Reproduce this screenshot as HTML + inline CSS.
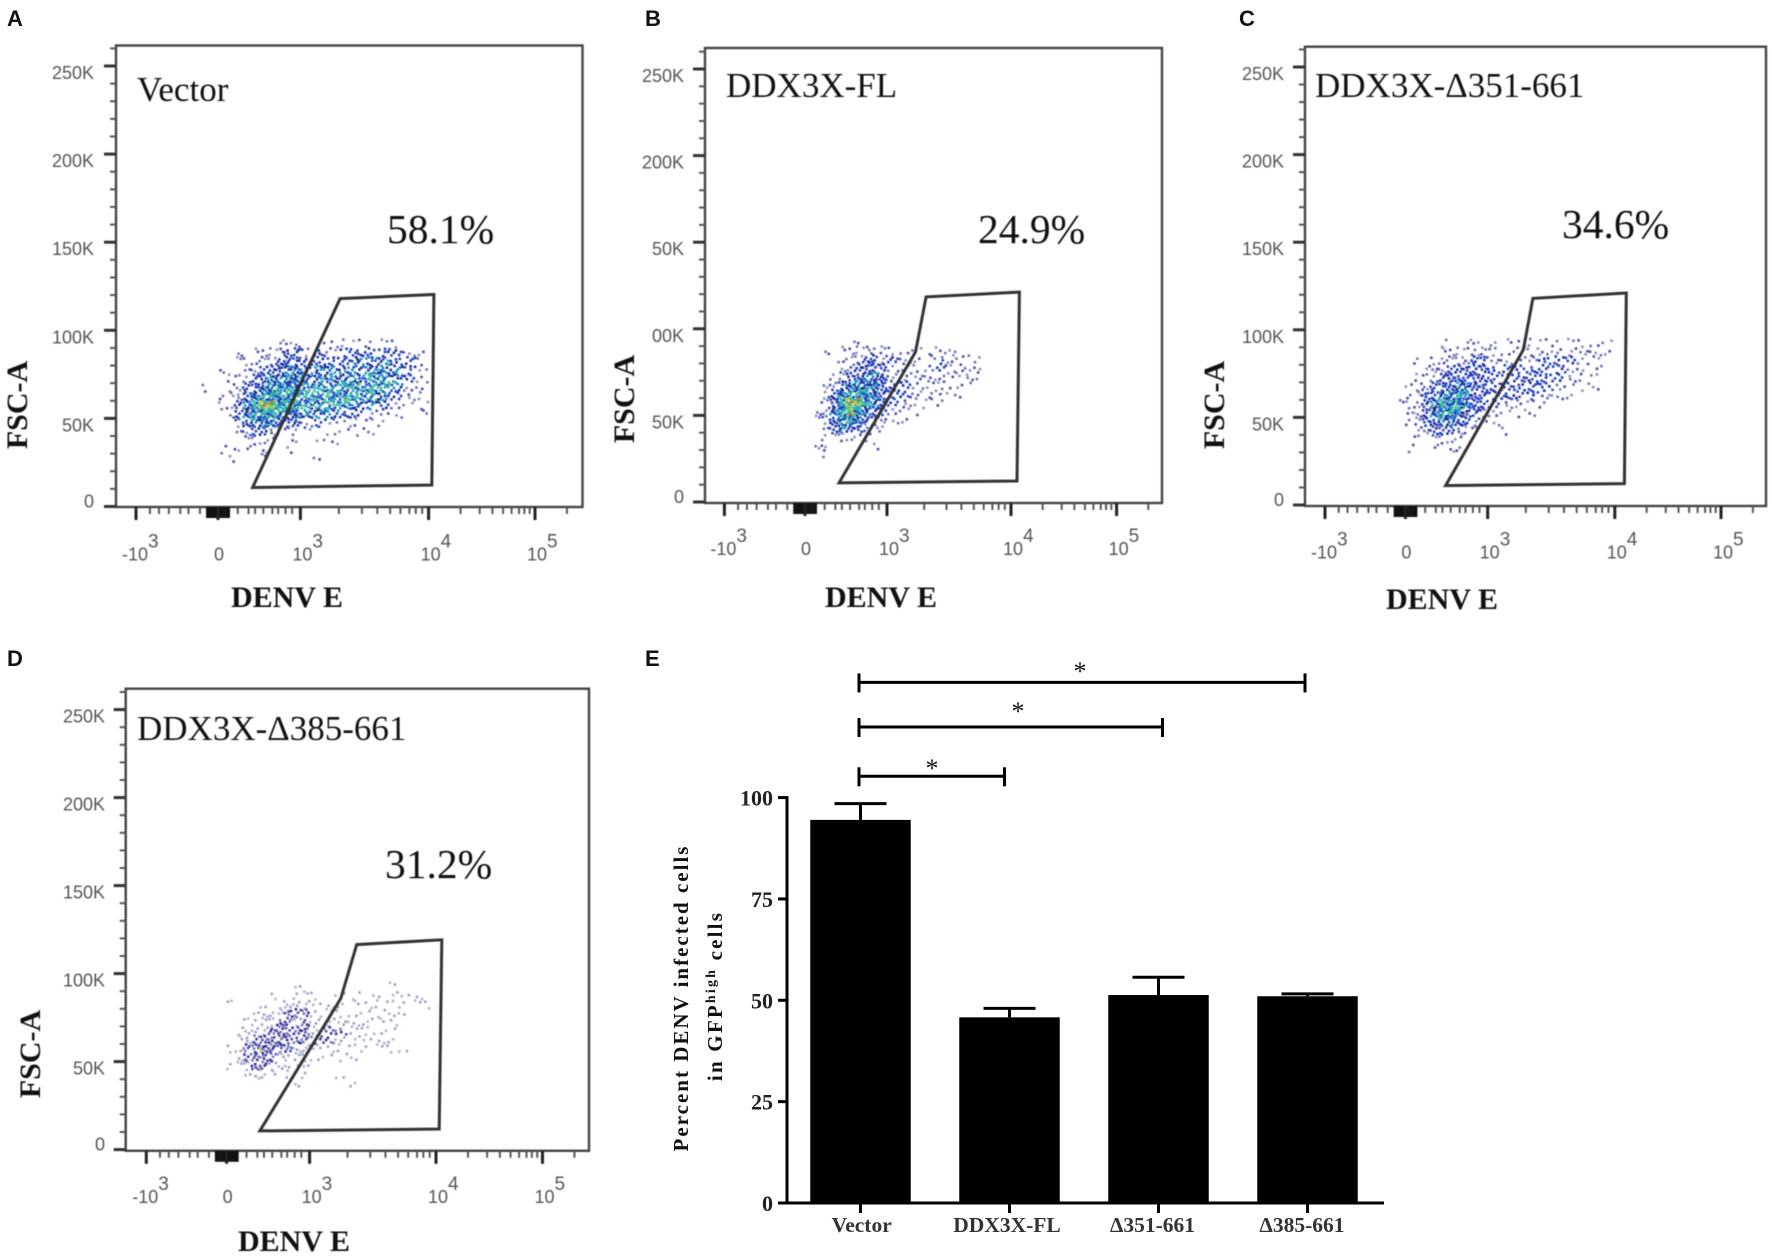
<!DOCTYPE html>
<html lang="en">
<head>
<meta charset="utf-8">
<title>DENV infection flow cytometry panels</title>
<style>
html,body{margin:0;padding:0;background:#fff;}
svg{display:block;}
text{font-family:"Liberation Serif",serif;}
.letter{font-family:"Liberation Sans",sans-serif;font-weight:700;font-size:22px;fill:#111;}
.name{font-size:35px;fill:#111;}
.pct{font-size:41.5px;fill:#111;}
.axt{font-size:30px;font-weight:700;fill:#111;}
.facs{filter:blur(.45px);}
.bars{filter:blur(.35px);}
</style>
</head>
<body>
<svg id="figure" xmlns="http://www.w3.org/2000/svg" width="1772" height="1256" viewBox="0 0 1772 1256">
  <rect x="0" y="0" width="1772" height="1256" fill="#fff"/>
  <text class="letter" x="7" y="26">A</text>
  <text class="letter" x="645" y="26">B</text>
  <text class="letter" x="1239" y="26">C</text>
  <text class="letter" x="7" y="666">D</text>
  <text class="letter" x="645" y="666">E</text>

  <g id="panel-a" class="facs">
    <text class="name" x="137" y="101">Vector</text>
    <text class="pct" x="387" y="243">58.1%</text>
    <text class="axt" x="287" y="607" text-anchor="middle">DENV E</text>
    <text class="axt" transform="translate(27,405) rotate(-90)" text-anchor="middle">FSC-A</text>
  </g>
  <g id="panel-b" class="facs">
    <text class="name" x="726" y="97">DDX3X-FL</text>
    <text class="pct" x="978" y="243">24.9%</text>
    <text class="axt" x="881" y="607" text-anchor="middle">DENV E</text>
    <text class="axt" transform="translate(634,399) rotate(-90)" text-anchor="middle">FSC-A</text>
  </g>
  <g id="panel-c" class="facs">
    <text class="name" x="1315" y="97">DDX3X-Δ351-661</text>
    <text class="pct" x="1562" y="238">34.6%</text>
    <text class="axt" x="1442" y="609" text-anchor="middle">DENV E</text>
    <text class="axt" transform="translate(1224,405) rotate(-90)" text-anchor="middle">FSC-A</text>
  </g>
  <g id="panel-d" class="facs">
    <text class="name" x="137" y="740">DDX3X-Δ385-661</text>
    <text class="pct" x="385" y="878">31.2%</text>
    <text class="axt" x="294" y="1251" text-anchor="middle">DENV E</text>
    <text class="axt" transform="translate(40,1054) rotate(-90)" text-anchor="middle">FSC-A</text>
  </g>

  <g id="panel-e" class="bars">
    <text transform="translate(688,998) rotate(-90)" text-anchor="middle" font-size="21" font-weight="700" letter-spacing="2" fill="#111">Percent DENV infected cells</text>
    <text transform="translate(722,996) rotate(-90)" text-anchor="middle" font-size="21" font-weight="700" letter-spacing="2.2" fill="#111">in GFP<tspan font-size="14" dy="-7">high</tspan><tspan dy="7"> cells</tspan></text>
    <text x="1080" y="680" text-anchor="middle" font-size="26" font-weight="400" fill="#111">*</text>
    <text x="1018" y="720" text-anchor="middle" font-size="26" font-weight="400" fill="#111">*</text>
    <text x="932" y="777" text-anchor="middle" font-size="26" font-weight="400" fill="#111">*</text>
  </g>
</svg>

<script>
// ---------- Flow cytometry values ----------
const fscTicksK = [0, 50, 100, 150, 200, 250];
const fscMinorK = [10,20,30,40,60,70,80,90,110,120,130,140,160,170,180,190,210,220,230,240,260];
const fscLabels = ['0', '50K', '100K', '150K', '200K', '250K'];
const fscLabelsB = ['0', '50K', '00K', '50K', '200K', '250K'];
const denvTicksU = [-1, 0, 1, 2, 3];
const denvLabelBase = ['-10', '0', '10', '10', '10'];
const denvLabelExp = ['3', '', '3', '4', '5'];
const denvMinorU = [-.83,-.72,-.6,-.46,-.36,-.22,.24,.37,.45,.55,.66,.73,.82,.9,1.3,1.48,1.6,1.7,1.78,1.85,1.9,1.95,2.3,2.48,2.6,2.7,2.78,2.85,2.9,2.95,3.3];
const denvClusterU = [-.13,-.1,-.07,-.04,-.01,.02,.05,.08,.11,.13];

const gateUA = [.42, 1.31, 2.05, 2.03];
const gateKA = [10.8, 118, 120.3, 12.2];
const gateUB = [.415, 1.23, 1.315, 2.08, 2.057];
const gateKB = [11, 86.6, 118.4, 121.2, 12.1];
const gateUC = [.488, 1.28, 1.356, 2.108, 2.09];
const gateKC = [11.1, 88.5, 117.9, 121, 12.2];
const gateUD = [.40, 1.247, 1.373, 2.054, 2.03];
const gateKD = [10.6, 85.9, 116.5, 119.2, 11.7];

// density bins: column lower edge in axis decades, row lower edge in FSC K
const densityColsU = [-.2,-.1,0,.1,.2,.3,.4,.5,.6,.7,.8,.9,1,1.1,1.2,1.3,1.4,1.5,1.6,1.7,1.8,1.9];
const densityRowsK = [90,85,80,75,70,65,60,55,50,45,40,35,30,25];
const densityA = [
[0,0,0,0,0,0,0,0,0,1,1,1,0,1,1,1,1,1,1,1,0,0],
[0,0,0,0,1,0,1,1,1,2,3,3,2,3,2,3,4,3,4,3,2,1],
[0,0,0,0,1,1,1,2,2,3,4,4,4,4,4,4,5,5,5,4,3,1],
[0,0,1,0,0,1,2,3,3,4,5,5,5,6,5,5,5,6,6,5,3,1],
[0,0,0,1,1,2,3,4,5,5,6,6,6,6,6,6,6,7,7,5,3,2],
[1,0,0,1,1,3,4,5,6,7,7,6,7,7,7,8,7,8,7,5,2,1],
[0,0,1,1,2,4,6,7,8,7,7,7,7,7,8,8,7,7,6,3,2,1],
[0,0,1,1,3,5,7,9,9,8,7,7,7,7,7,7,6,5,4,2,1,1],
[0,0,0,1,3,5,7,8,8,7,6,6,6,6,5,4,3,2,1,1,0,1],
[0,0,0,0,2,4,5,6,5,4,3,3,2,3,2,1,1,1,1,0,0,0],
[0,0,0,0,1,2,3,3,2,1,1,1,1,0,1,1,1,1,0,0,0,0],
[0,0,0,0,0,1,1,1,1,0,0,1,0,1,1,0,0,0,0,0,0,0],
[0,0,1,0,1,1,0,1,0,0,1,0,0,0,0,0,0,0,0,0,0,0],
[0,0,0,1,0,0,0,1,0,0,0,0,0,1,0,0,0,0,0,0,0,0]];
const densityB = [
[0,0,0,0,0,0,0,0,1,0,0,0,0,0,0,0,0,0,0,0,0,0],
[0,0,0,0,1,0,1,1,1,2,1,2,1,1,1,1,1,1,0,0,0,0],
[0,0,0,0,0,0,1,1,2,3,3,2,3,2,1,1,2,2,1,1,0,0],
[0,0,0,0,0,0,1,2,3,3,4,3,2,2,1,2,3,2,2,1,0,0],
[0,0,0,0,0,1,2,3,4,5,5,4,2,2,2,2,2,2,2,1,0,0],
[0,0,0,0,1,2,3,5,6,6,6,4,3,3,2,2,2,1,1,0,0,0],
[0,0,0,0,1,3,6,7,7,7,6,4,4,3,2,2,1,1,0,0,0,0],
[0,0,0,0,2,4,7,9,9,7,5,4,3,2,1,1,1,0,0,0,0,0],
[0,0,0,1,2,5,8,9,8,6,4,3,2,2,1,0,0,0,0,0,0,0],
[0,0,0,1,2,4,7,7,6,4,3,2,1,1,0,0,0,0,0,0,0,0],
[0,0,0,0,1,3,5,4,3,2,2,1,0,0,0,0,0,0,0,0,0,0],
[0,0,0,0,1,1,2,1,1,1,0,0,0,0,0,0,0,0,0,0,0,0],
[0,0,0,1,1,0,0,0,0,0,1,0,0,0,0,0,0,0,0,0,0,0],
[0,0,0,0,1,0,0,0,0,0,0,0,0,0,0,0,0,0,0,0,0,0]];
const densityC = [
[0,0,0,0,0,0,1,0,0,1,1,0,1,1,1,1,1,1,1,1,1,1],
[0,0,0,0,0,0,1,1,1,1,2,2,2,1,2,2,2,2,2,2,2,1],
[0,0,0,1,0,1,2,2,2,2,3,3,2,2,2,2,3,3,3,2,1,0],
[0,0,0,0,1,2,2,3,3,3,3,3,3,3,3,3,3,3,2,1,1,0],
[0,0,0,1,1,2,3,4,4,4,4,3,3,3,4,4,4,3,2,1,1,0],
[0,0,1,1,2,3,4,4,5,5,4,3,3,4,4,4,3,2,1,1,1,0],
[0,0,1,1,3,4,5,6,7,5,4,4,3,4,3,3,2,2,1,0,0,0],
[0,1,1,2,3,5,7,8,7,5,4,3,3,2,2,1,1,0,0,0,0,0],
[0,0,1,2,4,5,7,8,6,4,3,2,2,1,1,1,0,0,0,0,0,0],
[0,0,1,2,3,4,5,5,4,3,2,1,1,0,0,0,0,0,0,0,0,0],
[0,0,0,1,2,3,3,3,2,1,1,0,0,1,0,0,0,0,0,0,0,0],
[0,0,0,1,0,1,1,1,1,0,0,0,0,0,0,0,0,0,0,0,0,0],
[0,0,1,0,0,1,0,1,1,0,0,0,0,0,0,0,0,0,0,0,0,0],
[0,0,0,0,0,0,0,0,0,0,0,0,0,0,0,0,0,0,0,0,0,0]];
const densityD = [
[0,0,0,0,0,0,0,0,0,0,1,0,0,0,0,0,0,0,1,0,0,0],
[0,0,0,0,0,0,0,1,0,0,1,1,1,0,1,1,0,1,1,1,1,0],
[0,0,1,0,0,0,1,0,1,2,2,2,1,1,1,1,1,1,1,1,1,1],
[0,0,0,0,0,1,1,1,2,3,3,3,2,1,1,1,1,1,1,1,0,0],
[0,0,0,0,1,1,2,2,3,3,2,3,2,2,2,2,2,1,1,0,0,0],
[0,0,0,1,1,2,2,3,4,3,3,3,2,3,3,2,2,1,1,0,0,0],
[0,0,0,1,2,3,4,4,4,3,3,3,3,3,2,1,1,1,1,0,0,0],
[0,0,1,1,3,4,5,4,3,3,2,2,2,1,1,1,1,1,1,1,0,0],
[0,0,0,1,3,4,4,3,2,1,2,1,1,1,1,1,0,0,0,0,0,0],
[0,0,1,1,2,4,3,2,1,1,1,1,0,0,0,0,0,0,0,0,0,0],
[0,0,0,0,1,1,1,1,0,1,0,1,0,0,1,0,0,0,0,0,0,0],
[0,0,0,0,0,0,0,0,0,0,1,0,0,0,0,1,0,0,0,0,0,0],
[0,0,0,0,0,0,0,0,0,0,0,0,0,0,0,0,0,0,0,0,0,0],
[0,0,0,0,0,0,0,0,0,0,0,0,0,0,0,0,0,0,0,0,0,0]];

// ---------- Bar chart values ----------
const barCategories = ['Vector', 'DDX3X-FL', 'Δ351-661', 'Δ385-661'];
const barValues = [94.5, 45.8, 51.3, 51];
const barErrorTops = [98.5, 48, 55.7, 51.6];
const barAxisTicks = [0, 25, 50, 75, 100];
const barAxisLabels = ['0', '25', '50', '75', '100'];
const compareStartIndex = [0, 0, 0];
const compareEndIndex = [1, 2, 3];

// ---------- Layout ----------
const NS = 'http://www.w3.org/2000/svg';
function svgEl(tag, attrs, parent) {
  const el = document.createElementNS(NS, tag);
  for (const k in attrs) el.setAttribute(k, attrs[k]);
  parent.appendChild(el);
  return el;
}
function makeX(anchors) {
  return function (u) {
    const i = Math.max(0, Math.min(anchors.length - 2, Math.floor(u + 1)));
    return anchors[i] + (u + 1 - i) * (anchors[i + 1] - anchors[i]);
  };
}
const dotSpots = [[.15,.2],[.6,.1],[.85,.45],[.3,.55],[.7,.8],[.1,.85],[.45,.3],[.9,.9],[.5,.65],[.05,.5],[.75,.25],[.35,.05],[.25,.8],[.6,.45],[.95,.15],[.45,.95]];
const rich = {low:['#6f75b6','#8d91c4','#4a52ac'], mid:['#1f2ea6','#1b45c8','#3a46b0'], high:['#1a2fb0','#1d55d2','#2a9cc4','#17307f','#1f8fb5'], hot:['#1b3fc0','#2fb8a8','#2a9fc0','#45c08a','#1d55d2'], peak:['#45c08a','#7ccf60','#c8c840','#2fb8a8','#d06a30']};
const pale = {low:['#a0a0c8','#b4b4d4'], mid:['#5553aa','#34349c','#7a79ba'], high:['#26268f','#4a4ab0','#8f8fc4','#c8d080'], hot:['#26268f','#4a4ab0'], peak:['#26268f']};

function drawFacs(cfg) {
  const g = document.getElementById(cfg.id);
  const X = makeX(cfg.xAnchors);
  const Y = k => cfg.y0 - k * cfg.yPerK;
  const tones = cfg.tones;

  // density dots
  const cols = densityColsU, rows = densityRowsK;
  cfg.density.forEach((row, r) => {
    row.forEach((n, c) => {
      if (!n) return;
      const x0 = X(cols[c]), x1 = X(cols[c] + .1);
      const y1 = Y(rows[r]), y0 = Y(rows[r] + 5);
      const set = n <= 2 ? tones.low : n <= 4 ? tones.mid : n <= 6 ? tones.high : n <= 8 ? tones.hot : tones.peak;
      const count = Math.round(n * 1.6);
      for (let i = 0; i < count; i++) {
        const s = dotSpots[(i + r * 3 + c * 5) % 16];
        const dot = svgEl('rect', {x: x0 + s[0] * (x1 - x0) - 1.3, y: y0 + s[1] * (y1 - y0) - 1.3, width: 2.6, height: 2.6, fill: set[(i + r + c) % set.length]}, g);
        
        
      }
    });
  });

  // frame
  const frame = svgEl('rect', {x: cfg.left, y: cfg.top, width: cfg.right - cfg.left, height: cfg.bottom - cfg.top, fill: 'none', stroke: '#444', 'stroke-width': 2.4}, g);
  
  

  // y axis
  fscMinorK.forEach(k => {
    const t = svgEl('line', {x1: cfg.left - 6, x2: cfg.left, y1: Y(k), y2: Y(k), stroke: '#555', 'stroke-width': 2}, g);
    
    
  });
  fscTicksK.forEach((k, i) => {
    const t = svgEl('line', {x1: cfg.left - 12, x2: cfg.left, y1: Y(k), y2: Y(k), stroke: '#333', 'stroke-width': 3}, g);
    
    
    const lab = svgEl('text', {x: cfg.yLabelRight, y: Y(k) + (k === 0 ? 1 : 13), 'text-anchor': 'end', 'font-size': 18, fill: '#555', style: 'font-family:"Liberation Sans",sans-serif'}, g);
    lab.textContent = cfg.yLabels[i];
    
    
  });

  // x axis
  denvMinorU.forEach(u => {
    const t = svgEl('line', {x1: X(u), x2: X(u), y1: cfg.bottom, y2: cfg.bottom + 7, stroke: '#555', 'stroke-width': 2}, g);
    
    
  });
  denvClusterU.forEach(u => {
    const t = svgEl('line', {x1: X(u), x2: X(u), y1: cfg.bottom, y2: cfg.bottom + 11, stroke: '#111', 'stroke-width': 2.6}, g);
    
    
  });
  denvTicksU.forEach((u, i) => {
    const t = svgEl('line', {x1: X(u), x2: X(u), y1: cfg.bottom, y2: cfg.bottom + 13, stroke: '#222', 'stroke-width': 3}, g);
    
    
    const hasExp = denvLabelExp[i] !== '';
    const base = svgEl('text', {x: hasExp ? X(u) + 12 : X(u) + 1, y: cfg.xLabelY, 'text-anchor': hasExp ? 'end' : 'middle', 'font-size': 18, fill: '#555', style: 'font-family:"Liberation Sans",sans-serif'}, g);
    base.textContent = denvLabelBase[i];
    
    
    if (hasExp) {
      const sup = svgEl('text', {x: X(u) + 12, y: cfg.xLabelY - 13, 'font-size': 19, fill: '#555', style: 'font-family:"Liberation Sans",sans-serif'}, g);
      sup.textContent = denvLabelExp[i];
      
      
    }
  });

  // gate
  const pts = cfg.gateU.map((u, i) => X(u).toFixed(1) + ',' + Y(cfg.gateK[i]).toFixed(1)).join(' ');
  const gate = svgEl('polygon', {points: pts, fill: 'none', stroke: '#333', 'stroke-width': 3, 'stroke-linejoin': 'miter'}, g);
  
  
}

drawFacs({id:'panel-a', left:116, right:582.5, top:45.5, bottom:507, y0:506.5, yPerK:1.762, xAnchors:[136,218,300.4,428.6,535], yLabelRight:94, xLabelY:560.5, yLabels:fscLabels, density:densityA, gateU:gateUA, gateK:gateKA, tones:rich});
drawFacs({id:'panel-b', left:705, right:1162, top:48, bottom:503, y0:502, yPerK:1.732, xAnchors:[724.4,805,887,1011,1116.6], yLabelRight:684, xLabelY:555, yLabels:fscLabelsB, density:densityB, gateU:gateUB, gateK:gateKB, tones:rich});
drawFacs({id:'panel-c', left:1305, right:1766, top:46.7, bottom:506, y0:505, yPerK:1.752, xAnchors:[1325,1405.4,1487.7,1614.8,1721], yLabelRight:1284, xLabelY:558.7, yLabels:fscLabels, density:densityC, gateU:gateUC, gateK:gateKC, tones:rich});
drawFacs({id:'panel-d', left:125.7, right:589, top:688.7, bottom:1150.8, y0:1149.6, yPerK:1.76, xAnchors:[146.3,226.6,309.6,436,542.5], yLabelRight:105, xLabelY:1203, yLabels:fscLabels, density:densityD, gateU:gateUD, gateK:gateKD, tones:pale});

// ---------- Bar chart ----------
(function () {
  const g = document.getElementById('panel-e');
  const axisX = 787, baseY = 1203, yPerUnit = 4.054;
  const firstCenter = 860.5, step = 149;
  const barWidth = 100.5, capWidth = 52;
  const labelShift = [1.2, -2.5, -6, -5.5];
  const Y = v => baseY - v * yPerUnit;
  const X = i => firstCenter + i * step;

  barValues.forEach((v, i) => {
    const stem = svgEl('line', {x1: X(i), x2: X(i), y1: Y(barErrorTops[i]), y2: Y(v), stroke: '#000', 'stroke-width': 3}, g);
    
    
    const cap = svgEl('line', {x1: X(i) - capWidth / 2, x2: X(i) + capWidth / 2, y1: Y(barErrorTops[i]), y2: Y(barErrorTops[i]), stroke: '#000', 'stroke-width': 3}, g);
    
    
    const bar = svgEl('rect', {x: X(i) - barWidth / 2, y: Y(v), width: barWidth, height: baseY - Y(v), fill: '#000'}, g);
    
    
    const tick = svgEl('line', {x1: X(i), x2: X(i), y1: baseY, y2: baseY + 10, stroke: '#000', 'stroke-width': 3}, g);
    
    
    const lab = svgEl('text', {x: X(i) + labelShift[i], y: baseY + 29, 'text-anchor': 'middle', 'font-size': 21.5, 'font-weight': 700, fill: '#333'}, g);
    lab.textContent = barCategories[i];
    
    
  });

  barAxisTicks.forEach((v, i) => {
    const tick = svgEl('line', {x1: axisX - 9, x2: axisX, y1: Y(v), y2: Y(v), stroke: '#000', 'stroke-width': 3}, g);
    
    
    const lab = svgEl('text', {x: axisX - 14, y: Y(v) + 8, 'text-anchor': 'end', 'font-size': 22, 'font-weight': 700, fill: '#222'}, g);
    lab.textContent = barAxisLabels[i];
    
    
  });

  const yAxis = svgEl('line', {x1: axisX, x2: axisX, y1: Y(100) - 1.5, y2: baseY + 1.5, stroke: '#000', 'stroke-width': 3}, g);
  
  
  const xAxis = svgEl('line', {x1: axisX - 9, x2: 1384, y1: baseY, y2: baseY, stroke: '#000', 'stroke-width': 3}, g);
  
  

  // significance brackets (level 0 is nearest the bars)
  const bracketY = [776.3, 727, 682.4];
  const bracketEndShift = [-5, 4, -2.5];
  compareEndIndex.forEach((end, i) => {
    const x1 = X(compareStartIndex[i]) - 1.5, x2 = X(end) + bracketEndShift[i];
    const y = bracketY[i];
    const h = svgEl('line', {x1: x1, x2: x2, y1: y, y2: y, stroke: '#000', 'stroke-width': 3}, g);
    
    
    const l = svgEl('line', {x1: x1, x2: x1, y1: y - 9, y2: y + 10, stroke: '#000', 'stroke-width': 3}, g);
    
    
    const r = svgEl('line', {x1: x2, x2: x2, y1: y - 9, y2: y + 10, stroke: '#000', 'stroke-width': 3}, g);
    
    
  });
})();
</script>
</body>
</html>
